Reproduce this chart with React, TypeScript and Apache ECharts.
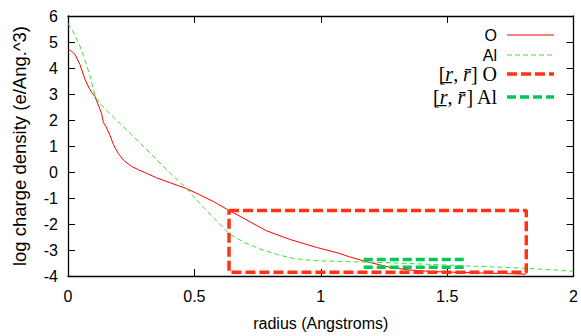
import React, { useEffect, useRef } from "react";
import * as echarts from "echarts";

// Charge density, oxygen
const radiusO = [0, 0.01, 0.028, 0.047, 0.067, 0.085, 0.094, 0.107, 0.113, 0.125, 0.133, 0.14, 0.15, 0.166, 0.18, 0.199, 0.22, 0.252, 0.28, 0.311, 0.35, 0.4, 0.469, 0.52, 0.58, 0.637, 0.7, 0.785, 0.88, 0.983, 1.07, 1.113, 1.17, 1.27, 1.35, 1.444, 1.55, 1.65, 1.75, 1.81];
const densityO = [4.71, 4.68, 4.52, 4.14, 3.57, 3.2, 3.06, 2.9, 2.74, 2.45, 2.24, 1.9, 1.75, 1.41, 1.05, 0.71, 0.45, 0.21, 0.08, -0.05, -0.22, -0.4, -0.64, -0.87, -1.16, -1.48, -1.81, -2.26, -2.6, -2.9, -3.12, -3.26, -3.42, -3.66, -3.77, -3.83, -3.86, -3.89, -3.91, -3.93];

// Charge density, aluminium
const radiusAl = [0, 0.02, 0.047, 0.067, 0.087, 0.107, 0.126, 0.15, 0.2, 0.25, 0.3, 0.35, 0.4, 0.469, 0.52, 0.588, 0.64, 0.7, 0.759, 0.83, 0.89, 0.95, 1.0, 1.115, 1.2, 1.3, 1.4, 1.5, 1.6, 1.76, 1.9, 2.0];
const densityAl = [5.72, 5.4, 4.85, 4.3, 3.7, 2.93, 2.62, 2.4, 1.92, 1.45, 0.97, 0.48, 0.0, -0.64, -1.19, -1.88, -2.39, -2.72, -2.96, -3.18, -3.32, -3.39, -3.42, -3.45, -3.47, -3.5, -3.54, -3.58, -3.62, -3.68, -3.75, -3.82];

// [r_, r^] boxes
const boxORadius = [0.637, 1.813];
const boxODensity = [-3.86, -1.48];
const boxAlRadius = [1.17, 1.57];
const boxAlDensity = [-3.66, -3.37];

const xTicks = [0, 0.5, 1, 1.5, 2];
const yTicks = [-4, -3, -2, -1, 0, 1, 2, 3, 4, 5, 6];

const legendNames = ["O", "Al", "[{i|r\u0332}, {i|r\u0304}] O", "[{i|r\u0332}, {i|r\u0304}] Al"];

const RED = "#ff0000";
const GREEN = "#3ee03e";
const RED_BOX = "#ff3312";
const GREEN_BOX = "#00c957";

const zip = (xs: number[], ys: number[]) => xs.map((x, i) => [x, ys[i]]);

export default function App() {
  const ref = useRef<HTMLDivElement>(null);
  useEffect(() => {
    if (!ref.current) return;
    const chart = echarts.init(ref.current, undefined, { renderer: "svg" });
    const font = "Liberation Sans";
    const axisCommon = {
      type: "value" as const,
      axisLine: { show: true, onZero: false, lineStyle: { color: "#000", width: 1.3 } },
      axisTick: { show: true, inside: true, length: 7, lineStyle: { color: "#000", width: 1 } },
      splitLine: { show: false },
    };
    const boxO = [
      [boxORadius[0], boxODensity[1]],
      [boxORadius[1], boxODensity[1]],
      [boxORadius[1], boxODensity[0]],
      [boxORadius[0], boxODensity[0]],
      [boxORadius[0], boxODensity[1]],
    ];
    const rowY = [35, 55, 74, 97];
    const textRight = 497;
    const lx1 = 507, lx2 = 554;
    const sampleStyles = [
      { stroke: RED, lineWidth: 1 },
      { stroke: GREEN, lineWidth: 1, lineDash: [5, 3] },
      { stroke: RED_BOX, lineWidth: 3.5, lineDash: [10, 4] },
      { stroke: GREEN_BOX, lineWidth: 3.5, lineDash: [9, 4] },
    ];
    const graphic: any[] = [];
    legendNames.forEach((name, i) => {
      const latex = i >= 2;
      graphic.push({
        type: "text",
        x: textRight,
        y: rowY[i],
        style: {
          text: name,
          align: "right",
          verticalAlign: "middle",
          fontFamily: latex ? "Liberation Serif" : font,
          fontSize: latex ? 20 : 16,
          fill: "#000",
          rich: { i: { fontStyle: "italic", fontFamily: "Liberation Serif", fontSize: 20 } },
        },
      });
      graphic.push({
        type: "line",
        shape: { x1: lx1, y1: rowY[i], x2: lx2, y2: rowY[i] },
        style: sampleStyles[i],
      });
    });

    chart.setOption({
      animation: false,
      grid: { left: 68, right: 7, top: 16, bottom: 57 },
      xAxis: [
        {
          ...axisCommon,
          position: "bottom",
          min: xTicks[0],
          max: xTicks[xTicks.length - 1],
          interval: 0.5,
          axisLabel: { show: true, margin: 12, color: "#000", fontSize: 16, fontFamily: font },
          name: "radius (Angstroms)",
          nameLocation: "middle",
          nameGap: 39,
          nameTextStyle: { color: "#000", fontSize: 16, fontFamily: font },
        },
        {
          ...axisCommon,
          position: "top",
          min: xTicks[0],
          max: xTicks[xTicks.length - 1],
          interval: 0.5,
          axisLabel: { show: false },
        },
      ],
      yAxis: [
        {
          ...axisCommon,
          position: "left",
          min: yTicks[0],
          max: yTicks[yTicks.length - 1],
          interval: 1,
          axisLabel: { show: true, margin: 10, color: "#000", fontSize: 16, fontFamily: font },
          name: "log charge density (e/Ang.^3)",
          nameLocation: "middle",
          nameGap: 39,
          nameTextStyle: { color: "#000", fontSize: 18.5, fontFamily: font },
        },
        {
          ...axisCommon,
          position: "right",
          min: yTicks[0],
          max: yTicks[yTicks.length - 1],
          interval: 1,
          axisLabel: { show: false },
        },
      ],
      series: [
        {
          type: "line",
          data: zip(radiusO, densityO),
          showSymbol: false,
          symbol: "none",
          lineStyle: { color: RED, width: 1 },
          z: 3,
        },
        {
          type: "line",
          data: zip(radiusAl, densityAl),
          showSymbol: false,
          symbol: "none",
          lineStyle: { color: GREEN, width: 1, type: [5, 3] },
          z: 3,
        },
        {
          type: "line",
          data: boxO,
          showSymbol: false,
          symbol: "none",
          lineStyle: { color: RED_BOX, width: 3.5, type: [10, 4] },
          z: 4,
        },
        {
          type: "line",
          data: [
            [boxAlRadius[0], boxAlDensity[1]],
            [boxAlRadius[1], boxAlDensity[1]],
          ],
          showSymbol: false,
          symbol: "none",
          lineStyle: { color: GREEN_BOX, width: 3.5, type: [9, 4] },
          z: 4,
        },
        {
          type: "line",
          data: [
            [boxAlRadius[0], boxAlDensity[0]],
            [boxAlRadius[1], boxAlDensity[0]],
          ],
          showSymbol: false,
          symbol: "none",
          lineStyle: { color: GREEN_BOX, width: 3.5, type: [9, 4] },
          z: 4,
        },
      ],
      graphic,
    });
    return () => chart.dispose();
  }, []);
  return (
    <div
      ref={ref}
      style={{ position: "absolute", left: 0, top: 0, width: 581, height: 336, background: "#fff" }}
    />
  );
}
